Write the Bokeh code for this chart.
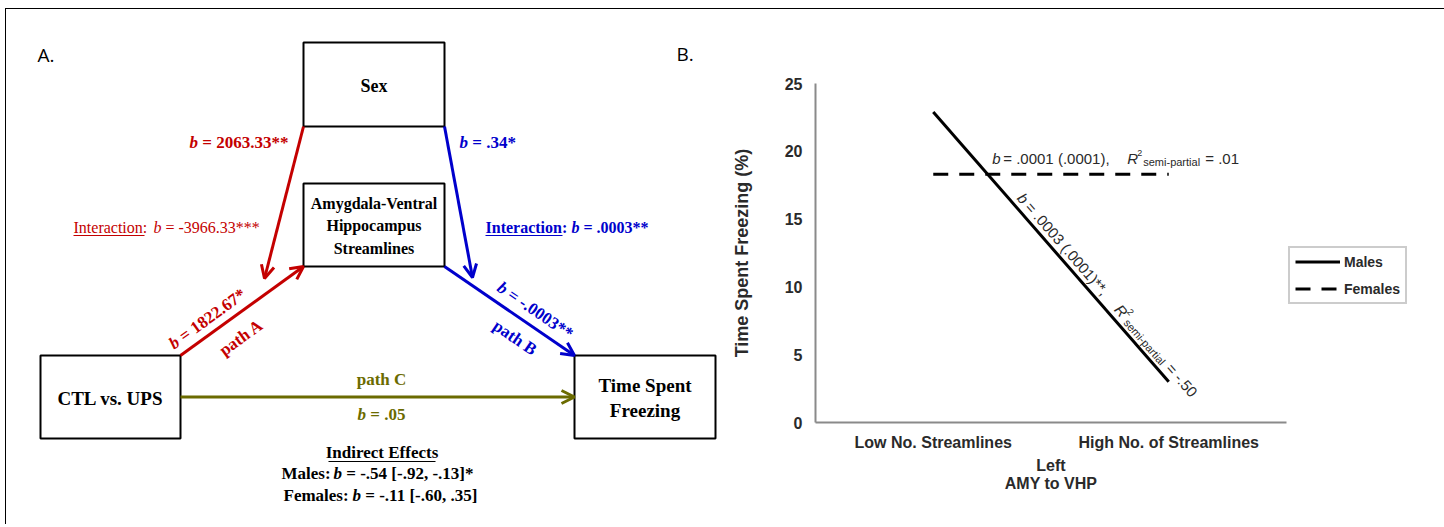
import math
from bokeh.plotting import figure
from bokeh.models import (Range1d, FactorRange, Arrow, OpenHead, Legend, LegendItem,
                          FixedTicker)
from bokeh.layouts import row
from bokeh.embed import file_html
from bokeh.resources import INLINE
from bokeh.core.properties import value

# ------------------------------------------------------------------ data
# Panel A : moderated mediation diagram
node_text = ["Sex", "Amygdala-Ventral\nHippocampus\nStreamlines", "CTL vs. UPS", "Time Spent\nFreezing"]
node_cx = [373.5, 373.5, 110.0, 644.5]
node_cy = [84.0, 224.5, 396.5, 396.5]
node_w = [141, 141, 140, 141]
node_h = [84, 83, 83, 83]

sex_to_a_coef = "= 2063.33**"
sex_to_b_coef = "= .34*"
interaction_a = "= -3966.33***"
interaction_b = "= .0003**"
path_a_coef = "= 1822.67*"
path_b_coef = "= -.0003**"
path_c_coef = "= .05"
indirect_males = "= -.54 [-.92, -.13]*"
indirect_females = "= -.11 [-.60, .35]"

# Panel B : simple slopes
streamline_levels = ["Low No. Streamlines", "High No. of Streamlines"]
freezing_males = [22.9, 3.0]
freezing_females = [18.3, 18.3]
y_ticks = [0, 5, 10, 15, 20, 25]
males_stat = "= .0003 (.0001)**,"
males_r2 = "= -.50"
females_stat = "= .0001 (.0001),"
females_r2 = "= .01"

# ------------------------------------------------------------------ styles
RED = "#c40000"
BLUE = "#0000cc"
OLIVE = "#6b6b00"
SERIF = value("Liberation Serif")
SANS_NAME = "Liberation Sans"
SANS = value(SANS_NAME)

X0, Y0 = 6, 9          # page position of the content (inside the frame line)
H = 515
WA, WB = 714, 718

# ------------------------------------------------------------------ panel A
pA = figure(width=WA, height=H, x_range=Range1d(X0, X0 + WA), y_range=Range1d(Y0 + H, Y0),
            output_backend="svg", toolbar_location=None, x_axis_type=None, y_axis_type=None,
            min_border=0)
pA.grid.visible = False
pA.outline_line_color = None
pA.frame_align = False


def t(p, x, y, s, color="black", size="17px", style="bold", font=SERIF, align="left",
      baseline="middle", angle=0.0, line_height=1.2):
    p.text(x=[x], y=[y], text=[s], text_color=color, text_font=font, text_font_size=size,
           text_font_style=style, text_align=align, text_baseline=baseline, angle=angle,
           text_line_height=line_height)


# boxes
pA.rect(x=node_cx, y=node_cy, width=node_w, height=node_h, fill_color="white",
        line_color="black", line_width=2)
t(pA, node_cx[0], node_cy[0] + 1, node_text[0], size="18px", align="center")
t(pA, node_cx[1], node_cy[1] + 1, node_text[1], size="16px", align="center", line_height=1.33)
t(pA, node_cx[2], node_cy[2] + 1, node_text[2], size="19px", align="center")
t(pA, node_cx[3], node_cy[3] + 1, node_text[3], size="19px", align="center", line_height=1.15)


def corner(i, sx, sy):
    return node_cx[i] + sx * node_w[i] / 2, node_cy[i] + sy * node_h[i] / 2


sex_bl = corner(0, -1, 1)
sex_br = corner(0, 1, 1)
amy_bl = corner(1, -1, 1)
amy_br = corner(1, 1, 1)
ctl_tr = corner(2, 1, -1)
tsf_tl = corner(3, -1, -1)
ctl_r = (node_cx[2] + node_w[2] / 2, node_cy[2])
tsf_l = (node_cx[3] - node_w[3] / 2, node_cy[3])

# moderator arrow tips (just above the a and b paths)
mod_a_tip = (264.0, 278.0)
mod_b_tip = (472.0, 277.0)


def arrow(p, s, e, color):
    p.add_layout(Arrow(end=OpenHead(size=13, line_width=3, line_color=color),
                       x_start=s[0], y_start=s[1], x_end=e[0], y_end=e[1],
                       line_color=color, line_width=3))


arrow(pA, sex_bl, mod_a_tip, RED)
arrow(pA, ctl_tr, amy_bl, RED)
arrow(pA, sex_br, mod_b_tip, BLUE)
arrow(pA, amy_br, tsf_tl, BLUE)
arrow(pA, ctl_r, tsf_l, OLIVE)

# panel letters
t(pA, 37, 54, "A.", size="19px", style="normal", font=value("Open Sans"))
t(pA, 676, 53, "B.", size="19px", style="normal", font=value("Open Sans"))

# Sex -> paths
t(pA, 189, 142, "b", color=RED, style="bold italic")
t(pA, 201.75, 142, sex_to_a_coef, color=RED)
t(pA, 459, 142, "b", color=BLUE, style="bold italic")
t(pA, 471.75, 142, sex_to_b_coef, color=BLUE)

# interactions
t(pA, 73, 227, "Interaction:", color=RED, size="16px", style="normal")
t(pA, 153, 227, "b", color=RED, size="16px", style="italic")
t(pA, 165, 227, interaction_a, color=RED, size="16px", style="normal")
t(pA, 485, 227, "Interaction:", color=BLUE, size="16px")
t(pA, 571, 227, "b", color=BLUE, size="16px", style="bold italic")
t(pA, 583, 227, interaction_b, color=BLUE, size="16px")
pA.segment(x0=[73, 485, 328], y0=[235, 235, 461], x1=[144, 562, 435], y1=[235, 235, 461],
           line_color=[RED, BLUE, "black"], line_width=1.2)


def along(s, e, d, perp):
    dx, dy = e[0] - s[0], e[1] - s[1]
    L = math.hypot(dx, dy)
    ux, uy = dx / L, dy / L
    nx, ny = uy, -ux
    if ny > 0:
        nx, ny = -nx, -ny
    return s[0] + d * ux + perp * nx, s[1] + d * uy + perp * ny


ang_a = math.atan2(ctl_tr[1] - amy_bl[1], amy_bl[0] - ctl_tr[0])
ang_b = -math.atan2(tsf_tl[1] - amy_br[1], tsf_tl[0] - amy_br[0])

x, y = along(ctl_tr, amy_bl, -2, 14)
t(pA, x, y, "b", color=RED, style="bold italic", angle=ang_a)
x, y = along(ctl_tr, amy_bl, 10.75, 14)
t(pA, x, y, path_a_coef, color=RED, angle=ang_a)
x, y = along(ctl_tr, amy_bl, 35, -21)
t(pA, x, y, "path A", color=RED, angle=ang_a)

x, y = along(amy_br, tsf_tl, 56, 15)
t(pA, x, y, "b", color=BLUE, style="bold italic", angle=ang_b)
x, y = along(amy_br, tsf_tl, 68.75, 15)
t(pA, x, y, path_b_coef, color=BLUE, angle=ang_b)
x, y = along(amy_br, tsf_tl, 74, -19)
t(pA, x, y, "path B", color=BLUE, angle=ang_b)

# path C
t(pA, 381, 379, "path C", color=OLIVE, align="center")
t(pA, 357, 414, "b", color=OLIVE, style="bold italic")
t(pA, 369.75, 414, path_c_coef, color=OLIVE)

# indirect effects
t(pA, 381.5, 452, "Indirect Effects", align="center")
t(pA, 281, 473, "Males:")
t(pA, 333, 473, "b", style="bold italic")
t(pA, 345.75, 473, indirect_males)
t(pA, 283, 495, "Females:")
t(pA, 352, 495, "b", style="bold italic")
t(pA, 364.75, 495, indirect_females)

# ------------------------------------------------------------------ panel B
MBL, MBR, MBT = 95, 152, 74
FW, FH = 471, 339
MBB = H - MBT - FH
pB = figure(frame_width=FW, frame_height=FH, x_range=FactorRange(*streamline_levels),
            y_range=Range1d(0, 25), output_backend="svg", toolbar_location=None,
            min_border_left=MBL, min_border_right=MBR, min_border_top=MBT,
            min_border_bottom=MBB)
pB.grid.visible = False
pB.outline_line_color = None
pB.frame_align = False

for ax in (pB.xaxis[0], pB.yaxis[0]):
    ax.axis_line_color = "#8a8a8a"
    ax.axis_line_width = 2
    ax.major_tick_line_color = None
    ax.minor_tick_line_color = None
    ax.major_tick_out = 0
    ax.major_tick_in = 0
    ax.minor_tick_out = 0
    ax.major_label_text_font = SANS_NAME
    ax.major_label_text_font_style = "bold"
    ax.major_label_text_font_size = "16px"
    ax.major_label_text_color = "#2a2a2a"
    ax.axis_label_text_font = SANS_NAME
    ax.axis_label_text_font_style = "bold"
    ax.axis_label_text_color = "#2a2a2a"

pB.yaxis.ticker = FixedTicker(ticks=y_ticks)
pB.yaxis.major_label_standoff = 13
pB.yaxis.axis_label = "Time Spent Freezing (%)"
pB.yaxis.axis_label_text_font_size = "18px"
pB.yaxis.axis_label_standoff = 30
pB.xaxis.major_label_standoff = 11
pB.xaxis.axis_label = "Left\nAMY to VHP"
pB.xaxis.axis_label_text_font_size = "16px"
pB.xaxis.axis_label_text_line_height = 1.1
pB.xaxis.axis_label_standoff = 3

r_m = pB.line(x=streamline_levels, y=freezing_males, line_color="black", line_width=3)
r_f = pB.line(x=streamline_levels, y=freezing_females, line_color="black", line_width=3,
              line_dash="15 11")

legend = Legend(items=[LegendItem(label="Males", renderers=[r_m]),
                       LegendItem(label="Females", renderers=[r_f])],
                location=(2, 118), border_line_color="#999999", border_line_width=2,
                label_text_font=SANS_NAME, label_text_font_style="bold",
                label_text_font_size="14px",
                label_text_color="#2a2a2a", glyph_width=45, glyph_height=17, spacing=10,
                padding=5, label_standoff=4, margin=0, background_fill_alpha=1)
pB.add_layout(legend, "right")


def tb(p, xcat, yv, dx, dy, s, size="15px", style="normal", angle=0.0):
    p.text(x=[xcat], y=[yv], text=[s], x_offset=dx, y_offset=dy, text_font=SANS,
           text_font_size=size, text_font_style=style, text_color="#2a2a2a",
           text_align="left", text_baseline="middle", angle=angle)


# females label (horizontal)
fx, fy = streamline_levels[0], freezing_females[0]
tb(pB, fx, fy, 59, -16, "b", style="italic")
tb(pB, fx, fy, 70, -16, females_stat)
tb(pB, fx, fy, 194, -16, "R", style="italic")
tb(pB, fx, fy, 204, -21, "2", size="9px")
tb(pB, fx, fy, 210, -12, "semi-partial", size="11px")
tb(pB, fx, fy, 272, -16, females_r2)

# males label (rotated along the line)
sdx = FW / 2
sdy = (freezing_males[0] - freezing_males[1]) / 25 * FH
th = math.atan2(sdy, sdx)
ux, uy = math.cos(th), math.sin(th)
nx, ny = math.sin(th), -math.cos(th)
mx, my = streamline_levels[0], freezing_males[0]
pieces = [(120, 11, "b", "15px", "italic"),
          (132, 11, males_stat, "15px", "normal"),
          (268, 11, "R", "15px", "italic"),
          (278, 17, "2", "9px", "normal"),
          (284, 8, "semi-partial", "11px", "normal"),
          (346, 11, males_r2, "15px", "normal")]
for d, pp, s, sz, st in pieces:
    tb(pB, mx, my, d * ux + pp * nx, d * uy + pp * ny, s, size=sz, style=st, angle=-th)

layout = row(pA, pB, styles={"border-top": "1px solid black", "border-left": "1px solid black",
                             "border-right": "1px solid black", "margin-left": "5px",
                             "margin-top": "8px"})

open("out.html", "w").write(file_html(layout, INLINE))
